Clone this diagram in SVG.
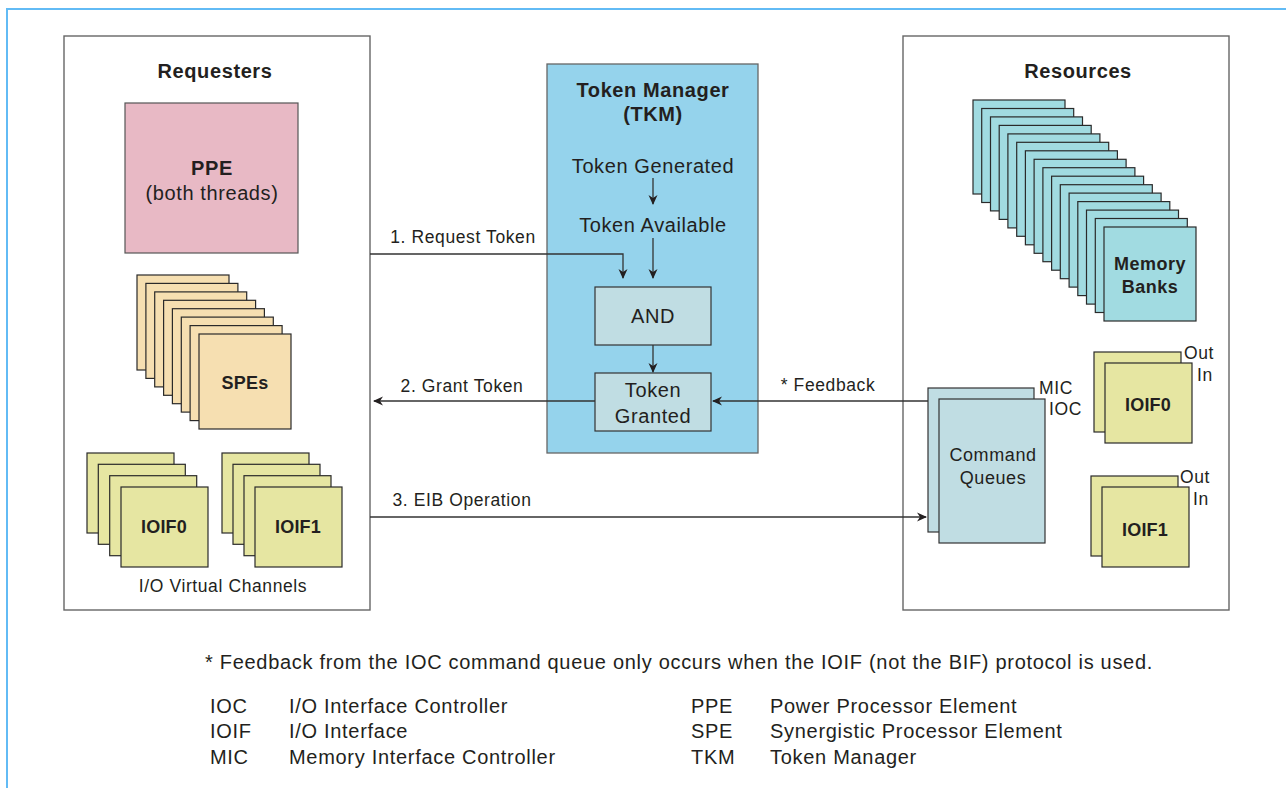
<svg xmlns="http://www.w3.org/2000/svg" width="1286" height="788" viewBox="0 0 1286 788">
<defs>
<style>
text{font-family:"Liberation Sans",Arial,sans-serif;fill:#231f20}
.t{font-size:20px;letter-spacing:0.6px}
.b{font-weight:bold}
.lbl{font-size:17.5px;letter-spacing:0.6px}
.bx{font-size:18px;font-weight:bold;letter-spacing:0.2px}
.lg{font-size:20px;letter-spacing:0.7px}
.panel{fill:#fff;stroke:#666;stroke-width:1.4}
.box{stroke:#2a2a2a;stroke-width:1.2}
.yel{fill:#e6e6a2}
.spe{fill:#f6dfb1}
.mem{fill:#a1dbe1}
.cq{fill:#c0dde3;stroke:#333;stroke-width:1.2}
.conn{fill:none;stroke:#333;stroke-width:1.3}
.mid{text-anchor:middle}
</style>
<marker id="ah" viewBox="0 0 10 10" refX="9" refY="5" markerWidth="10" markerHeight="10" markerUnits="userSpaceOnUse" orient="auto">
<path d="M0,0.5 L10,5 L0,9.5 L3,5 z" fill="#231f20"/>
</marker>
</defs>
<rect width="1286" height="788" fill="#fff"/>
<path d="M7,800 L7,9 L1300,9" fill="none" stroke="#62bbf5" stroke-width="2"/>

<g id="requesters">
<rect class="panel" x="64" y="36" width="306" height="574"/>
<text class="t b mid" x="215" y="78">Requesters</text>
</g>

<g id="ppe">
<rect x="125" y="103" width="173" height="150" fill="#e8b9c5" stroke="#555" stroke-width="1.2"/>
<text class="t b mid" x="212" y="175">PPE</text>
<text class="t mid" x="212" y="200">(both threads)</text>
</g>

<g id="spes">
<rect class="box spe" x="137" y="275" width="92" height="95"/>
<rect class="box spe" x="145.9" y="283.4" width="92" height="95"/>
<rect class="box spe" x="154.7" y="291.9" width="92" height="95"/>
<rect class="box spe" x="163.6" y="300.3" width="92" height="95"/>
<rect class="box spe" x="172.4" y="308.7" width="92" height="95"/>
<rect class="box spe" x="181.3" y="317.1" width="92" height="95"/>
<rect class="box spe" x="190.1" y="325.6" width="92" height="95"/>
<rect class="box spe" x="199" y="334" width="92" height="95"/>
<text class="bx mid" x="245" y="389">SPEs</text>
</g>

<g id="ioif0-req">
<rect class="box yel" x="87" y="453" width="87" height="80"/>
<rect class="box yel" x="98.3" y="464.3" width="87" height="80"/>
<rect class="box yel" x="109.7" y="475.7" width="87" height="80"/>
<rect class="box yel" x="121" y="487" width="87" height="80"/>
<text class="bx mid" x="164" y="533">IOIF0</text>
</g>

<g id="ioif1-req">
<rect class="box yel" x="222" y="453" width="87" height="80"/>
<rect class="box yel" x="233" y="464.3" width="87" height="80"/>
<rect class="box yel" x="244" y="475.7" width="87" height="80"/>
<rect class="box yel" x="255" y="487" width="87" height="80"/>
<text class="bx mid" x="298" y="533">IOIF1</text>
</g>
<text class="lbl mid" x="223" y="592">I/O Virtual Channels</text>

<g id="tkm">
<rect x="547" y="64" width="211" height="389" fill="#95d3ec" stroke="#666" stroke-width="1.3"/>
<text class="t b mid" x="653" y="97">Token Manager</text>
<text class="t b mid" x="653" y="121">(TKM)</text>
<text class="t mid" x="653" y="173">Token Generated</text>
<text class="t mid" x="653" y="232">Token Available</text>
</g>

<g id="and">
<rect class="cq" x="595" y="287" width="116" height="58"/>
<text class="t mid" x="653" y="323">AND</text>
</g>

<g id="token-granted">
<rect class="cq" x="595" y="373" width="116" height="58"/>
<text class="t mid" x="653" y="397">Token</text>
<text class="t mid" x="653" y="423">Granted</text>
</g>

<g id="resources">
<rect class="panel" x="903" y="36" width="326" height="574"/>
<text class="t b mid" x="1078" y="78">Resources</text>
</g>

<g id="memory-banks">
<rect class="box mem" x="973" y="100" width="92" height="94"/>
<rect class="box mem" x="981.7" y="108.5" width="92" height="94"/>
<rect class="box mem" x="990.5" y="116.9" width="92" height="94"/>
<rect class="box mem" x="999.2" y="125.4" width="92" height="94"/>
<rect class="box mem" x="1007.9" y="133.9" width="92" height="94"/>
<rect class="box mem" x="1016.7" y="142.3" width="92" height="94"/>
<rect class="box mem" x="1025.4" y="150.8" width="92" height="94"/>
<rect class="box mem" x="1034.1" y="159.3" width="92" height="94"/>
<rect class="box mem" x="1042.9" y="167.7" width="92" height="94"/>
<rect class="box mem" x="1051.6" y="176.2" width="92" height="94"/>
<rect class="box mem" x="1060.3" y="184.7" width="92" height="94"/>
<rect class="box mem" x="1069.1" y="193.1" width="92" height="94"/>
<rect class="box mem" x="1077.8" y="201.6" width="92" height="94"/>
<rect class="box mem" x="1086.5" y="210.1" width="92" height="94"/>
<rect class="box mem" x="1095.3" y="218.5" width="92" height="94"/>
<rect class="box mem" x="1104" y="227" width="92" height="94"/>
<text class="bx mid" x="1150" y="270" style="letter-spacing:0.5px">Memory</text>
<text class="bx mid" x="1150" y="293" style="letter-spacing:0.5px">Banks</text>
</g>

<g id="command-queues">
<rect class="cq" x="928" y="388" width="106" height="144"/>
<rect class="cq" x="939" y="399" width="106" height="144"/>
<text class="lbl mid" x="993" y="461" style="font-size:18px">Command</text>
<text class="lbl mid" x="993" y="484" style="font-size:18px">Queues</text>
<text class="lbl" x="1039" y="394">MIC</text>
<text class="lbl" x="1049" y="415">IOC</text>
</g>

<g id="ioif0-res">
<rect class="box yel" x="1094" y="352" width="87" height="80"/>
<rect class="box yel" x="1105" y="363" width="87" height="80"/>
<text class="bx mid" x="1148" y="411">IOIF0</text>
<text class="lbl" x="1184" y="359">Out</text>
<text class="lbl" x="1197" y="381">In</text>
</g>

<g id="ioif1-res">
<rect class="box yel" x="1091" y="476" width="87" height="80"/>
<rect class="box yel" x="1102" y="487" width="87" height="80"/>
<text class="bx mid" x="1145" y="536">IOIF1</text>
<text class="lbl" x="1180" y="483">Out</text>
<text class="lbl" x="1193" y="505">In</text>
</g>

<g id="connectors">
<polyline class="conn" points="370,254 623,254 623,278" marker-end="url(#ah)"/>
<line class="conn" x1="653" y1="178" x2="653" y2="204" marker-end="url(#ah)"/>
<line class="conn" x1="653" y1="238" x2="653" y2="278" marker-end="url(#ah)"/>
<line class="conn" x1="653" y1="345" x2="653" y2="372" marker-end="url(#ah)"/>
<line class="conn" x1="595" y1="401" x2="374" y2="401" marker-end="url(#ah)"/>
<line class="conn" x1="928" y1="401" x2="713" y2="401" marker-end="url(#ah)"/>
<line class="conn" x1="370" y1="517" x2="926" y2="517" marker-end="url(#ah)"/>
<text class="lbl mid" x="463" y="243">1. Request Token</text>
<text class="lbl mid" x="462" y="392">2. Grant Token</text>
<text class="lbl mid" x="828" y="391">* Feedback</text>
<text class="lbl mid" x="462" y="506">3. EIB Operation</text>
</g>

<g id="legend">
<text class="lg" x="205" y="669">* Feedback from the IOC command queue only occurs when the IOIF (not the BIF) protocol is used.</text>
<text class="lg" x="210" y="713">IOC</text>
<text class="lg" x="289" y="713">I/O Interface Controller</text>
<text class="lg" x="210" y="738">IOIF</text>
<text class="lg" x="289" y="738">I/O Interface</text>
<text class="lg" x="210" y="764">MIC</text>
<text class="lg" x="289" y="764">Memory Interface Controller</text>
<text class="lg" x="691" y="713">PPE</text>
<text class="lg" x="770" y="713">Power Processor Element</text>
<text class="lg" x="691" y="738">SPE</text>
<text class="lg" x="770" y="738">Synergistic Processor Element</text>
<text class="lg" x="691" y="764">TKM</text>
<text class="lg" x="770" y="764">Token Manager</text>
</g>
</svg>
